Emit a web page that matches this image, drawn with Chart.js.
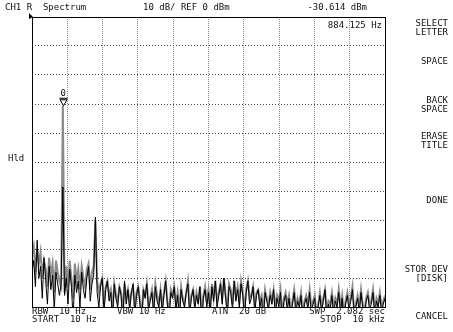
<!DOCTYPE html>
<html>
<head>
<meta charset="utf-8">
<script src="https://cdn.jsdelivr.net/npm/chart.js@4.4.1/dist/chart.umd.min.js"></script>
<style>
  html, body { margin: 0; padding: 0; background: #fff; }
  #wrap { position: relative; width: 453px; height: 332px; overflow: hidden; }
  #chart { position: absolute; left: 0; top: 0; }
  .t { position: absolute; font-family: "DejaVu Sans Mono", monospace; font-size: 9px; line-height: 9px; color: #111; white-space: pre; }
  .r { text-align: right; }
</style>
</head>
<body>
<div id="wrap">
  <canvas id="chart" width="453" height="332"></canvas>

  <div class="t" style="left:5px;top:3px">CH1 R  Spectrum</div>
  <div class="t" style="left:143px;top:3px">10 dB/ REF 0 dBm</div>
  <div class="t r" style="right:86px;top:3px">-30.614 dBm</div>
  <div class="t r" style="right:71px;top:21px">884.125 Hz</div>

  <div class="t" style="left:8px;top:154px">Hld</div>

  <div class="t" style="left:32px;top:307px">RBW  10 Hz</div>
  <div class="t" style="left:117px;top:307px">VBW 10 Hz</div>
  <div class="t" style="left:212px;top:307px">ATN  20 dB</div>
  <div class="t r" style="right:68px;top:307px">SWP  2.082 sec</div>
  <div class="t" style="left:32px;top:315px">START  10 Hz</div>
  <div class="t r" style="right:68px;top:315px">STOP  10 kHz</div>

  <div class="t r" style="right:5px;top:19px">SELECT
LETTER</div>
  <div class="t r" style="right:5px;top:57px">SPACE</div>
  <div class="t r" style="right:5px;top:96px">BACK
SPACE</div>
  <div class="t r" style="right:5px;top:132px">ERASE
TITLE</div>
  <div class="t r" style="right:5px;top:196px">DONE</div>
  <div class="t r" style="right:5px;top:265px">STOR DEV
[DISK]</div>
  <div class="t r" style="right:5px;top:312px">CANCEL</div>

  <div class="t" id="mkLabel" style="left:0;top:0">0</div>
</div>

<script>
// sweep settings
const startHz = 10;
const stopHz = 10000;
const refLevel = 0;       // dBm, top of screen
const bottomLevel = -100; // 10 dB/div, 10 divisions

// marker
const markerHz = 884.125;
const markerDbm = -30.614;

// trace A (current sweep, black), 207 points from start to stop
const traceA = [
  -88, -84, -93, -77, -90, -86, -97, -83, -91, -99,
  -86, -94, -89, -101, -88, -92, -96, -92, -58.6, -96,
  -90, -99, -87, -93, -104, -89, -95, -91, -100, -88,
  -94, -97, -90, -86, -98, -92, -89, -69, -95, -100,
  -93, -90, -102, -94, -91, -98, -95, -104, -92, -97,
  -100, -93, -96, -105, -91, -99, -94, -101, -95, -92,
  -103, -96, -93, -99, -106, -94, -97, -92, -101, -98,
  -95, -103, -93, -98, -100, -94, -102, -96, -91, -99,
  -104, -95, -97, -93, -101, -96, -105, -94, -98, -100,
  -95, -92, -103, -97, -94, -101, -96, -99, -93, -106,
  -97, -94, -100, -95, -102, -93, -98, -91, -100, -96,
  -92, -99, -90, -97, -103, -93, -95, -101, -91, -98,
  -94, -100, -92, -96, -104, -95, -91, -99, -97, -93,
  -102, -96, -94, -100, -97, -105, -95, -98, -101, -96,
  -99, -94, -103, -97, -100, -95, -106, -98, -96, -101,
  -97, -104, -99, -95, -102, -98, -100, -96, -105, -99,
  -97, -101, -95, -103, -99, -97, -106, -100, -96, -102,
  -98, -94, -104, -99, -101, -96, -103, -98, -100, -95,
  -102, -97, -105, -99, -96, -101, -98, -94, -103, -100,
  -97, -102, -95, -100, -104, -98, -96, -101, -99, -95,
  -103, -98, -100, -96, -102, -99, -97
];

// trace B (max hold, grey)
const traceB = [
  -82, -79, -88, -80, -85, -81, -90, -84, -87, -93,
  -83, -89, -85, -95, -84, -88, -91, -93, -30.6, -95,
  -86, -93, -84, -90, -97, -85, -91, -87, -94, -86,
  -90, -93, -87, -85, -94, -88, -86, -70, -91, -95,
  -92, -90, -99, -93, -91, -96, -94, -102, -92, -96,
  -98, -93, -95, -102, -92, -97, -94, -99, -95, -93,
  -100, -95, -93, -98, -103, -94, -96, -92, -99, -97,
  -94, -100, -92, -96, -99, -94, -100, -95, -91, -98,
  -102, -94, -96, -93, -99, -95, -101, -93, -97, -99,
  -95, -91, -100, -96, -94, -99, -95, -98, -93, -102,
  -96, -93, -98, -94, -100, -92, -97, -91, -98, -95,
  -92, -97, -90, -96, -100, -92, -94, -99, -91, -96,
  -93, -98, -91, -95, -101, -94, -91, -97, -96, -93,
  -99, -95, -94, -98, -96, -102, -94, -97, -99, -95,
  -98, -94, -100, -96, -98, -94, -103, -97, -95, -99,
  -96, -101, -98, -94, -100, -97, -99, -95, -102, -98,
  -96, -99, -94, -100, -98, -96, -103, -99, -95, -100,
  -97, -94, -101, -98, -99, -95, -100, -97, -99, -94,
  -100, -96, -102, -98, -95, -99, -97, -93, -101, -99,
  -96, -100, -94, -99, -102, -97, -95, -99, -98, -94,
  -101, -97, -99, -95, -100, -98, -96
];

// sweep points are evenly spaced between start and stop
const stepHz = (stopHz - startHz) / (traceA.length - 1);
const toXY = arr => arr.map((v, i) => ({ x: startHz + i * stepHz, y: v }));

// box around the graticule, ref level mark and the marker
const screenPlugin = {
  id: 'screen',
  afterDatasetsDraw(chart) {
    const { ctx, chartArea: a, scales } = chart;
    ctx.save();
    ctx.strokeStyle = '#000';
    ctx.lineWidth = 1;
    ctx.strokeRect(Math.round(a.left) + 0.5, Math.round(a.top) + 0.5,
      Math.round(a.right - a.left), Math.round(a.bottom - a.top));

    // reference level arrow
    const ry = scales.y.getPixelForValue(refLevel);
    ctx.fillStyle = '#000';
    ctx.beginPath();
    ctx.moveTo(a.left - 3, ry - 4);
    ctx.lineTo(a.left + 1, ry);
    ctx.lineTo(a.left - 3, ry + 2);
    ctx.closePath();
    ctx.fill();

    // marker triangle
    const mx = Math.round(scales.x.getPixelForValue(markerHz)) + 0.5;
    const my = scales.y.getPixelForValue(markerDbm);
    ctx.fillStyle = '#fff';
    ctx.beginPath();
    ctx.moveTo(mx - 3.5, my - 6);
    ctx.lineTo(mx + 3.5, my - 6);
    ctx.lineTo(mx, my);
    ctx.closePath();
    ctx.fill();
    ctx.stroke();
    ctx.beginPath();
    ctx.moveTo(mx - 4, my - 7.5);
    ctx.lineTo(mx + 4, my - 7.5);
    ctx.stroke();
    ctx.restore();

    const lbl = document.getElementById('mkLabel');
    lbl.style.left = (mx - 3) + 'px';
    lbl.style.top = (my - 17) + 'px';
  }
};

const divTicks = (lo, hi) => scale => {
  const t = [];
  for (let k = 0; k <= 10; k++) t.push({ value: lo + (hi - lo) * k / 10 });
  scale.ticks = t;
};

new Chart(document.getElementById('chart').getContext('2d'), {
  type: 'line',
  data: {
    datasets: [{
      label: 'Trace A',
      data: toXY(traceA),
      borderColor: '#000',
      borderWidth: 1,
      pointRadius: 0,
      tension: 0
    }, {
      label: 'Trace B (Hld)',
      data: toXY(traceB),
      borderColor: '#8a8a8a',
      borderWidth: 2,
      pointRadius: 0,
      tension: 0
    }]
  },
  options: {
    responsive: false,
    animation: false,
    events: [],
    layout: { padding: { left: 32, top: 17, right: 68, bottom: 25 } },
    scales: {
      x: {
        type: 'linear',
        min: startHz,
        max: stopHz,
        afterBuildTicks: divTicks(startHz, stopHz),
        ticks: { display: false },
        grid: { color: '#8c8c8c', lineWidth: 1, drawTicks: false },
        border: { display: false, dash: [1, 1] }
      },
      y: {
        min: bottomLevel,
        max: refLevel,
        afterBuildTicks: divTicks(bottomLevel, refLevel),
        ticks: { display: false },
        grid: { color: '#444', lineWidth: 1, drawTicks: false },
        border: { display: false, dash: [1, 2] }
      }
    },
    plugins: {
      legend: { display: false },
      tooltip: { enabled: false }
    }
  },
  plugins: [screenPlugin]
});
</script>
</body>
</html>
